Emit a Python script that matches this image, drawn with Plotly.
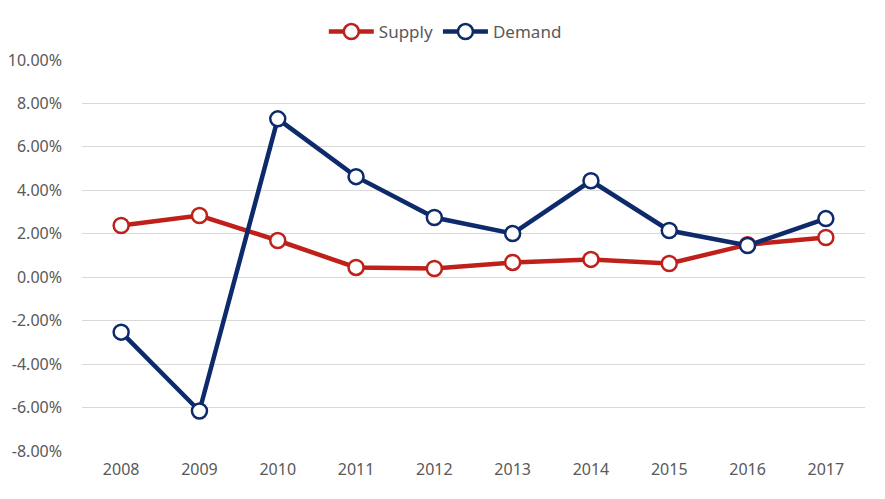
import plotly.graph_objects as go

years = ["2008", "2009", "2010", "2011", "2012", "2013", "2014", "2015", "2016", "2017"]
supply = [2.38, 2.84, 1.69, 0.45, 0.40, 0.68, 0.82, 0.63, 1.50, 1.83]
demand = [-2.53, -6.16, 7.29, 4.63, 2.75, 2.01, 4.44, 2.15, 1.46, 2.70]
y_ticks = [10, 8, 6, 4, 2, 0, -2, -4, -6, -8]
y_tick_labels = [f"{v:.2f}%" for v in y_ticks]

font_family = "Noto Sans, Open Sans, sans-serif"
text_color = "#595959"

fig = go.Figure()
fig.add_trace(go.Scatter(
    x=years, y=supply, name="Supply", mode="lines+markers",
    line=dict(color="#C0201A", width=4.5),
    marker=dict(symbol="circle", size=15, color="white",
                line=dict(color="#C0201A", width=2.5)),
))
fig.add_trace(go.Scatter(
    x=years, y=demand, name="Demand", mode="lines+markers",
    line=dict(color="#0D2A6B", width=4.5),
    marker=dict(symbol="circle", size=15, color="white",
                line=dict(color="#0D2A6B", width=2.5)),
))

fig.update_layout(
    width=885, height=499,
    margin=dict(l=74, r=28, t=52, b=56, autoexpand=False),
    paper_bgcolor="white", plot_bgcolor="white",
    font=dict(family=font_family, color=text_color, size=16),
    legend=dict(orientation="h", x=0.464, xanchor="center",
                yref="container", y=1 - 24 / 499, yanchor="middle",
                itemwidth=45,
                font=dict(size=17, color=text_color), traceorder="normal"),
    showlegend=True,
)
fig.update_xaxes(type="category", range=[-0.5, 9.5], showgrid=False, showline=False,
                 ticks="", automargin=False, ticklabelstandoff=7,
                 tickfont=dict(size=16, color=text_color))
fig.update_yaxes(range=[-8, 10], tickvals=y_ticks, ticktext=y_tick_labels,
                 showgrid=True, gridcolor="#D9D9D9", gridwidth=1.2, zeroline=False,
                 showline=False, ticks="", ticklabelstandoff=19, automargin=False,
                 tickfont=dict(size=16, color=text_color))

fig.write_html("out.html")
